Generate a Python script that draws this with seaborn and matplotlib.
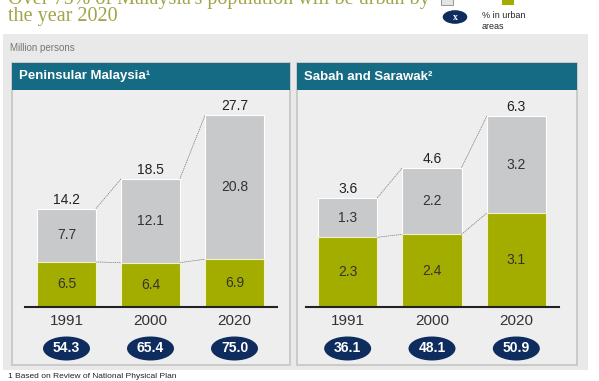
import pandas as pd
import seaborn as sns
import matplotlib.pyplot as plt
from matplotlib.patches import Rectangle, Ellipse

# Data
years = ["1991", "2000", "2020"]
pen_urban = [6.5, 6.4, 6.9]
pen_rural = [7.7, 12.1, 20.8]
pen_total = [14.2, 18.5, 27.7]
pen_pct = [54.3, 65.4, 75.0]
sab_urban = [2.3, 2.4, 3.1]
sab_rural = [1.3, 2.2, 3.2]
sab_total = [3.6, 4.6, 6.3]
sab_pct = [36.1, 48.1, 50.9]

GREEN = "#a3ad00"
GREY = "#c8c9cb"
NAVY = "#0e2d5e"
TEAL = "#156a84"
TITLE = "#a0a548"

sns.set_style("white")
plt.rcParams["font.family"] = ["Liberation Sans", "DejaVu Sans"]

W, H = 599, 381
fig = plt.figure(figsize=(W / 100, H / 100), dpi=100)
fig.patch.set_facecolor("white")


def fx(px):
    return px / W


def fy(py):
    return 1 - py / H


def frect(x0, y0, x1, y1, **kw):
    fig.patches.append(Rectangle((fx(x0), fy(y1)), fx(x1 - x0), (y1 - y0) / H,
                                 transform=fig.transFigure, zorder=-5, **kw))


# title (top line is cut off in the original)
fig.text(fx(8), fy(-1), "Over 75% of Malaysia's population will be urban by",
         family="Liberation Serif", fontsize=14.5, color=TITLE, va="center")
fig.text(fx(8), fy(17), "the year 2020",
         family="Liberation Serif", fontsize=14.5, color=TITLE, va="center")

# legend (top row is cut off in the original)
frect(441, -6, 453, 5, facecolor="#e4e4e4", edgecolor="#888888", lw=0.6)
frect(502, -6, 514, 5, facecolor=GREEN, edgecolor="none")
fig.patches.append(Ellipse((fx(455), fy(17)), fx(26), 15 / H, facecolor=NAVY,
                           transform=fig.transFigure))
fig.text(fx(455), fy(17), "x", color="white", fontsize=7, fontweight="bold",
         ha="center", va="center", family="Liberation Serif")
fig.text(fx(482), fy(21), "% in urban\nareas", fontsize=6.5, va="center",
         linespacing=1.2)

# background box
frect(3, 34, 588, 370, facecolor="#e9e9e9", edgecolor="none")
fig.text(fx(10), fy(48), "Million persons", fontsize=7, color="#777777",
         va="center")

# panels
panels = [
    (12, 290, "Peninsular Malaysia\u00b9", 24.5, 276.5, 6.93,
     pen_urban, pen_rural, pen_total, pen_pct),
    (297, 577, "Sabah and Sarawak\u00b2", 305.5, 558.5, 30.3,
     sab_urban, sab_rural, sab_total, sab_pct),
]

for (px0, px1, name, ax0, ax1, scale, urban, rural, total, pct) in panels:
    frect(px0, 63, px1, 365, facecolor="#eeeeee", edgecolor="#c4c4c4", lw=1.2)
    frect(px0, 63, px1, 90, facecolor=TEAL, edgecolor="none")
    fig.text(fx(px0 + 7), fy(76.5), name, color="white", fontsize=9.5,
             fontweight="bold", va="center")

    base, top = 307, 95
    ax = fig.add_axes([fx(ax0), fy(base), fx(ax1 - ax0), (base - top) / H])
    df = pd.DataFrame({"year": years, "urban": urban, "total": total})
    sns.barplot(data=df, x="year", y="total", color=GREY, width=0.7,
                saturation=1, edgecolor="white", linewidth=0.8, ax=ax)
    sns.barplot(data=df, x="year", y="urban", color=GREEN, width=0.7,
                saturation=1, edgecolor="#f2f2c8", linewidth=0.8, ax=ax)
    ax.set_xlim(-0.5, 2.5)
    ax.set_ylim(0, (base - top) / scale)
    ax.set_facecolor("none")
    for s in ["top", "left", "right"]:
        ax.spines[s].set_visible(False)
    ax.spines["bottom"].set_color("#222222")
    ax.spines["bottom"].set_linewidth(1.5)
    ax.set_yticks([])
    ax.set_xlabel("")
    ax.set_ylabel("")
    ax.tick_params(axis="x", length=0, pad=5, labelsize=11,
                   labelcolor="#333333")

    unit_px = (ax1 - ax0) / 3
    hw = 0.35
    for i in range(3):
        ax.text(i, urban[i] / 2, f"{urban[i]:.1f}", ha="center", va="center",
                fontsize=10, color="#333333")
        ax.text(i, urban[i] + rural[i] / 2, f"{rural[i]:.1f}", ha="center",
                va="center", fontsize=10, color="#333333")
        ax.annotate(f"{total[i]:.1f}", xy=(i, total[i]), xytext=(0, 1.5),
                    textcoords="offset points", ha="center", va="bottom",
                    fontsize=10, color="#222222")
        ey = -41.5 / scale
        ax.add_patch(Ellipse((i, ey), 47 / unit_px, 24 / scale, facecolor=NAVY,
                             edgecolor="none", clip_on=False))
        ax.text(i, ey, f"{pct[i]:.1f}", ha="center", va="center",
                fontsize=10, fontweight="bold", color="white")
        if i < 2:
            ax.plot([i + hw, i + 1 - hw], [total[i], total[i + 1]],
                    color="#777777", lw=0.5, ls=(0, (2, 1)))
            ax.plot([i + hw, i + 1 - hw], [urban[i], urban[i + 1]],
                    color="#777777", lw=0.5, ls=(0, (2, 1)))

fig.text(fx(8), fy(377), "1 Based on Review of National Physical Plan",
         fontsize=6, color="#222222", va="center")

fig.savefig("out.png", dpi=100)
